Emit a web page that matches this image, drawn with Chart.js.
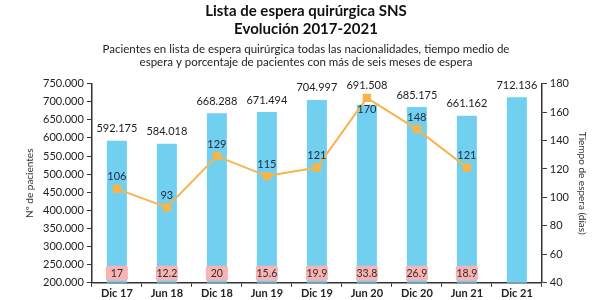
<!DOCTYPE html>
<html>
<head>
<meta charset="utf-8">
<script src="https://cdn.jsdelivr.net/npm/chart.js@4.4.0/dist/chart.umd.min.js"></script>
<style>
  html, body { margin: 0; padding: 0; background: #fff; }
  #wrap { width: 600px; height: 300px; }
</style>
</head>
<body>
<div id="wrap"><canvas id="chart" width="600" height="300"></canvas></div>
<script>
const periods = ['Dic 17', 'Jun 18', 'Dic 18', 'Jun 19', 'Dic 19', 'Jun 20', 'Dic 20', 'Jun 21', 'Dic 21'];
const patients = [592175, 584018, 668288, 671494, 704997, 691508, 685175, 661162, 712136];
const waitDays = [106, 93, 129, 115, 121, 170, 148, 121, null];
const pctOver6Months = ['17', '12.2', '20', '15.6', '19.9', '33.8', '26.9', '18.9', null];

const FONT = 'Lato, "DejaVu Sans", sans-serif';

// 592175 -> "592.175"
function fmt(v) {
  return String(v).replace(/\B(?=(\d{3})+(?!\d))/g, '.');
}

const valueLabels = {
  id: 'valueLabels',
  afterDatasetsDraw(chart) {
    const ctx = chart.ctx;
    const bars = chart.getDatasetMeta(1).data;
    const points = chart.getDatasetMeta(0).data;
    const bottom = chart.scales.y.bottom;
    ctx.save();
    ctx.textAlign = 'center';
    ctx.textBaseline = 'middle';

    bars.forEach((bar, i) => {
      const pt = points[i];
      const hasPt = waitDays[i] !== null;
      let top = bar.y;
      if (hasPt && pt.y < top) top = pt.y;

      // patients above the bar
      ctx.font = '11px ' + FONT;
      ctx.fillStyle = '#222';
      ctx.fillText(fmt(patients[i]), bar.x, top - 12);

      // % over six months, pink box at the foot of the bar
      if (pctOver6Months[i] !== null) {
        const w = 22, h = 15;
        ctx.fillStyle = '#f6b4b4';
        ctx.beginPath();
        ctx.roundRect(bar.x - w / 2, bottom - h - 2, w, h, 2);
        ctx.fill();
        ctx.fillStyle = '#3a2a2a';
        ctx.font = '10.5px ' + FONT;
        ctx.fillText(pctOver6Months[i], bar.x, bottom - h / 2 - 2);
      }

      // waiting days next to the marker
      if (hasPt) {
        const below = pt.y < bar.y;
        ctx.fillStyle = '#1f2a3a';
        ctx.font = '11px ' + FONT;
        ctx.fillText(String(waitDays[i]), pt.x, below ? pt.y + 12 : pt.y - 12);
      }
    });
    ctx.restore();
  }
};

new Chart(document.getElementById('chart'), {
  data: {
    labels: periods,
    datasets: [
      {
        type: 'line',
        label: 'Tiempo medio de espera',
        data: waitDays,
        yAxisID: 'y1',
        borderColor: '#f7b449',
        backgroundColor: '#f7b449',
        borderWidth: 2,
        pointStyle: 'rect',
        pointRadius: 4.5,
        spanGaps: false,
        order: 0
      },
      {
        type: 'bar',
        label: 'Pacientes',
        data: patients,
        yAxisID: 'y',
        backgroundColor: '#71cff0',
        barPercentage: 0.4,
        categoryPercentage: 1,
        order: 1
      }
    ]
  },
  options: {
    responsive: false,
    animation: false,
    layout: { padding: { left: 20, right: 8, top: 0, bottom: 0 } },
    plugins: {
      legend: { display: false },
      tooltip: { enabled: false },
      title: {
        display: true,
        text: ['Lista de espera quirúrgica SNS', 'Evolución 2017-2021'],
        color: '#111',
        font: { family: FONT, size: 15, weight: 'bold', lineHeight: 1.2 },
        padding: { top: 2, bottom: 4 }
      },
      subtitle: {
        display: true,
        text: ['Pacientes en lista de espera quirúrgica todas las nacionalidades, tiempo medio de',
               'espera y porcentaje de pacientes con más de seis meses de espera'],
        color: '#222',
        font: { family: FONT, size: 11.5, lineHeight: 1.2 },
        padding: { bottom: 14 }
      }
    },
    scales: {
      x: {
        grid: { drawOnChartArea: false, drawTicks: true, tickLength: 4, color: '#333', offset: true },
        border: { color: '#333', width: 1.5 },
        ticks: { color: '#222', font: { family: FONT, size: 11, weight: 'bold' }, padding: 0 }
      },
      y: {
        position: 'left',
        min: 200000,
        max: 750000,
        grid: { drawOnChartArea: false, drawTicks: true, tickLength: 5, color: '#333' },
        border: { color: '#333', width: 1.5 },
        ticks: { stepSize: 50000, callback: v => fmt(v), color: '#222', font: { family: FONT, size: 11 }, padding: 3 },
        title: { display: true, text: 'Nº de pacientes', color: '#333', font: { family: FONT, size: 10 } }
      },
      y1: {
        position: 'right',
        min: 40,
        max: 180,
        grid: { drawOnChartArea: false, drawTicks: true, tickLength: 5, color: '#333' },
        border: { color: '#333', width: 1.5 },
        ticks: { stepSize: 20, color: '#222', font: { family: FONT, size: 11 }, padding: 3 },
        title: { display: true, text: 'Tiempo de espera (días)', color: '#333', font: { family: FONT, size: 10 } }
      }
    }
  },
  plugins: [valueLabels]
});
</script>
</body>
</html>
